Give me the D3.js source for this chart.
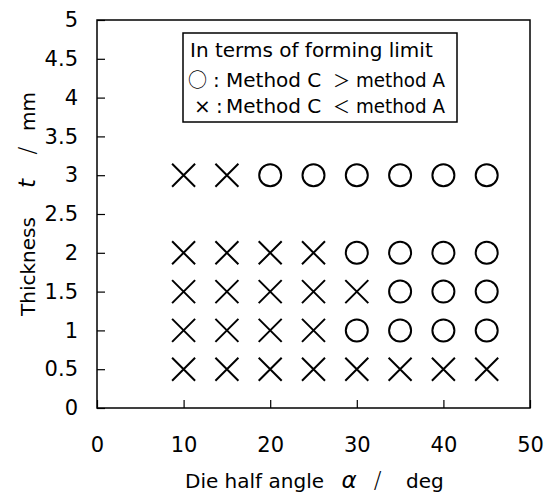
<!DOCTYPE html>
<html>
<head>
<meta charset="utf-8">
<script src="https://cdn.jsdelivr.net/npm/d3@7"></script>
<style>
  html, body { margin: 0; padding: 0; background: #fff; }
  svg text { font-family: "DejaVu Sans", "Liberation Sans", sans-serif; fill: #000; }
</style>
</head>
<body>
<svg id="chart" width="554" height="494"></svg>
<script>
// Die half angles tested (deg) and sheet thicknesses (mm)
const angles = [10, 15, 20, 25, 30, 35, 40, 45];
const thicknesses = [0.5, 1, 1.5, 2, 3];
// Outcome per thickness row, one entry per angle:
// "O" = method C gives higher forming limit, "X" = method C lower
const outcomeT05 = ["X", "X", "X", "X", "X", "X", "X", "X"];
const outcomeT10 = ["X", "X", "X", "X", "O", "O", "O", "O"];
const outcomeT15 = ["X", "X", "X", "X", "X", "O", "O", "O"];
const outcomeT20 = ["X", "X", "X", "X", "O", "O", "O", "O"];
const outcomeT30 = ["X", "X", "O", "O", "O", "O", "O", "O"];
const outcomes = [outcomeT05, outcomeT10, outcomeT15, outcomeT20, outcomeT30];

const xTicks = [0, 10, 20, 30, 40, 50];
const yTicks = [0, 0.5, 1, 1.5, 2, 2.5, 3, 3.5, 4, 4.5, 5];
const legendTitle = "In terms of forming limit";
const legendRows = [
  { sym: "○", rel: "＞" },
  { sym: "×", rel: "＜" }
];

const points = [];
thicknesses.forEach((t, i) => {
  angles.forEach((a, j) => points.push({ angle: a, t: t, kind: outcomes[i][j] }));
});

const svg = d3.select("#chart");
const plotL = 97, plotR = 530, plotT = 20, plotB = 408;
const cjk = "Noto Sans CJK JP";

const x = d3.scaleLinear().domain([0, 50]).range([plotL, plotR]);
const y = d3.scaleLinear().domain([0, 5]).range([plotB, plotT]);

// Axes with inward ticks
const xAxis = svg.append("g")
  .attr("transform", `translate(0,${plotB})`)
  .call(d3.axisBottom(x).tickValues(xTicks).tickSize(-8).tickPadding(29).tickFormat(d3.format("d")));
const yAxis = svg.append("g")
  .attr("transform", `translate(${plotL},0)`)
  .call(d3.axisLeft(y).tickValues(yTicks).tickSize(-8).tickPadding(19).tickFormat(d => String(d)));

[xAxis, yAxis].forEach(g => {
  g.select(".domain").remove();
  g.selectAll(".tick line").attr("stroke", "#000").attr("stroke-width", 1.2);
  g.selectAll(".tick text").attr("font-size", 21).attr("font-family", "DejaVu Sans, sans-serif").attr("fill", "#000");
});

// Plot frame
svg.append("rect")
  .attr("x", plotL).attr("y", plotT)
  .attr("width", plotR - plotL).attr("height", plotB - plotT)
  .attr("fill", "none").attr("stroke", "#000").attr("stroke-width", 1.5);

// Markers
const r = 11;
const marks = svg.append("g");
points.filter(p => p.kind === "O").forEach(p => {
  marks.append("circle")
    .attr("cx", x(p.angle)).attr("cy", y(p.t)).attr("r", r)
    .attr("fill", "none").attr("stroke", "#000").attr("stroke-width", 2);
});
points.filter(p => p.kind === "X").forEach(p => {
  const cx = x(p.angle), cy = y(p.t), h = 11.5;
  marks.append("path")
    .attr("d", `M${cx - h},${cy - h}L${cx + h},${cy + h}M${cx - h},${cy + h}L${cx + h},${cy - h}`)
    .attr("stroke", "#000").attr("stroke-width", 2).attr("fill", "none");
});

// Axis titles
const xTitle = svg.append("g").attr("font-size", 20);
xTitle.append("text").attr("x", 185).attr("y", 488).text("Die half angle");
xTitle.append("text").attr("x", 349).attr("y", 488).attr("text-anchor", "middle")
  .attr("font-style", "italic").attr("font-size", 23).text("α");
xTitle.append("text").attr("x", 377.5).attr("y", 488).attr("text-anchor", "middle")
  .attr("font-size", 23).attr("font-weight", 300).text("/");
xTitle.append("text").attr("x", 406).attr("y", 488).text("deg");

const yTitle = svg.append("g").attr("transform", "rotate(-90)").attr("font-size", 20);
yTitle.append("text").attr("x", -316).attr("y", 35).text("Thickness");
yTitle.append("text").attr("x", -183.5).attr("y", 35).attr("text-anchor", "middle")
  .attr("font-style", "italic").attr("font-size", 23).text("t");
yTitle.append("text").attr("x", -150.5).attr("y", 35).attr("text-anchor", "middle")
  .attr("font-size", 23).attr("font-weight", 300).text("/");
yTitle.append("text").attr("x", -131).attr("y", 35).text("mm");

// Legend box
const lg = svg.append("g");
lg.append("rect")
  .attr("x", 183).attr("y", 33).attr("width", 274).attr("height", 89)
  .attr("fill", "#fff").attr("stroke", "#000").attr("stroke-width", 1.5);
lg.append("text").attr("x", 190).attr("y", 57).attr("font-size", 20).text(legendTitle);
const rowY = [87, 113];
legendRows.forEach((row, i) => {
  const t = lg.append("text").attr("y", rowY[i]).attr("font-size", 20);
  if (i === 0) {
    t.append("tspan").attr("x", 188).attr("font-family", cjk).attr("font-size", 19).text(row.sym);
  } else {
    t.append("tspan").attr("x", 194).text(row.sym);
  }
  t.append("tspan").attr("x", i === 0 ? 213 : 216).text(":");
  t.append("tspan").attr("x", 226).text("Method C");
  t.append("tspan").attr("x", 333).attr("font-family", cjk).attr("font-size", 17).text(row.rel);
  t.append("tspan").attr("x", 356).attr("textLength", 89).attr("lengthAdjust", "spacingAndGlyphs").text("method A");
});
</script>
</body>
</html>
